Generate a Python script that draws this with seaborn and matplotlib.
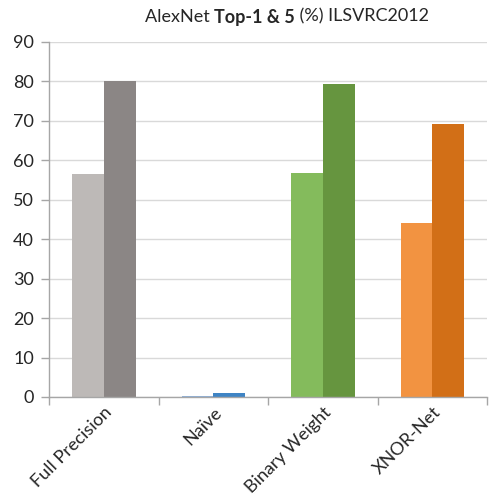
import numpy as np
import pandas as pd
import matplotlib
matplotlib.use("Agg")
import matplotlib.pyplot as plt
import seaborn as sns

# data
methods = ["Full Precision", "Naïve", "Binary Weight", "XNOR-Net"]
top1 = [56.6, 0.3, 56.8, 44.2]
top5 = [80.2, 0.9, 79.4, 69.2]
light_colors = ["#BDB9B7", "#8FB0D8", "#84BB5C", "#F29341"]
dark_colors = ["#8B8685", "#3F84C4", "#66953F", "#D26F17"]

df = pd.DataFrame({
    "method": methods * 2,
    "metric": ["Top-1"] * 4 + ["Top-5"] * 4,
    "value": top1 + top5,
})

sns.set_style("white")
plt.rcParams["font.family"] = ["Lato", "DejaVu Sans"]

fig = plt.figure(figsize=(4.91, 5.01), dpi=100)
ax = fig.add_axes([0.1, 0.2076, 0.892, 0.7086])

sns.barplot(data=df, x="method", y="value", hue="metric", order=methods,
            width=0.58, gap=0, ax=ax, legend=False, saturation=1)

for cont, cols in zip(ax.containers, [light_colors, dark_colors]):
    for bar, c in zip(cont, cols):
        bar.set_facecolor(c)
        bar.set_edgecolor("none")

ax.set_ylim(0, 90)
ax.set_xlim(-0.5, 3.5)
ax.set_yticks(np.arange(0, 91, 10))
ax.yaxis.grid(True, color="#D9D9D9", linewidth=1)
ax.set_axisbelow(True)
ax.set_xlabel("")
ax.set_ylabel("")

for s in ["top", "right"]:
    ax.spines[s].set_visible(False)
for s in ["left", "bottom"]:
    ax.spines[s].set_color("#A6A6A6")
    ax.spines[s].set_linewidth(1)

ax.tick_params(axis="y", length=6, color="#A6A6A6", width=1, labelsize=13, pad=5, left=True)
ax.set_xticks(range(len(methods)))
ax.set_xticklabels(methods, rotation=45, ha="right", rotation_mode="anchor", fontsize=13)
ax.tick_params(axis="x", which="major", length=0, pad=5)
ax.set_xticks(np.arange(-0.5, 4, 1), minor=True)
ax.tick_params(axis="x", which="minor", length=6, color="#A6A6A6", width=1, bottom=True)

# title with a bold middle part
parts = [("AlexNet ", "normal"), ("Top-1 & 5", "bold"), (" (%) ILSVRC2012", "normal")]
fig.canvas.draw()
r = fig.canvas.get_renderer()
texts = []
for s, w in parts:
    t = fig.text(0, 0.983, s, fontsize=13, fontweight=w, va="top", ha="left")
    texts.append(t)
widths = [t.get_window_extent(r).width for t in texts]
total = sum(widths)
x0 = 287 - total / 2
for t, wd in zip(texts, widths):
    t.set_x(x0 / fig.bbox.width)
    x0 += wd

fig.savefig("out.png", dpi=100)
